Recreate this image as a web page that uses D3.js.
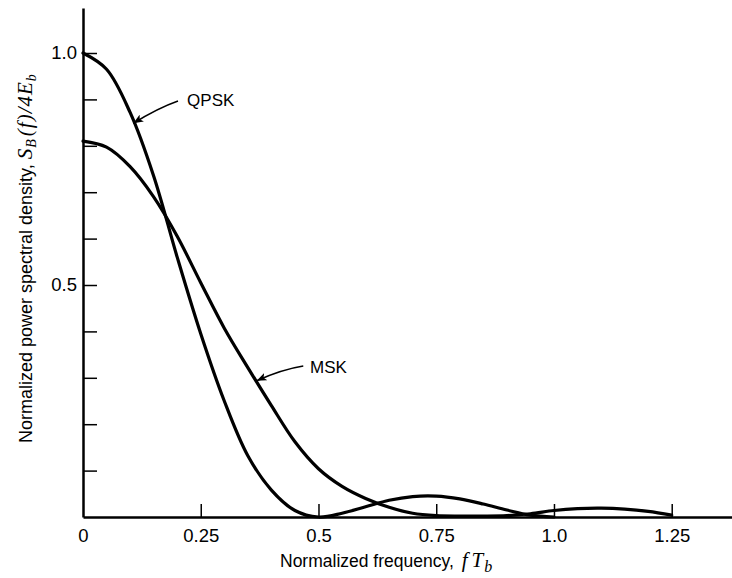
<!DOCTYPE html>
<html><head><meta charset="utf-8">
<script src="https://cdn.jsdelivr.net/npm/d3@7"></script>
<style>
body{margin:0;background:#fff}
svg{display:block}
</style>
</head><body>
<svg id="chart" width="732" height="578"></svg>
<script>
// ---- data ----
const freq    = [0,0.05,0.1,0.15,0.2,0.25,0.3,0.35,0.4,0.45,0.5,0.55,0.6,0.65,0.7,0.75,0.8,0.85,0.9,0.95,1.0,1.05,1.1,1.15,1.2,1.25];
const qpskPSD = [1.0,0.965,0.872,0.735,0.56,0.395,0.25,0.132,0.058,0.014,0.0,0.008,0.022,0.036,0.044,0.045,0.039,0.028,0.015,0.004,0.0,null,null,null,null,null];
const mskPSD  = [0.81,0.797,0.755,0.69,0.605,0.505,0.407,0.322,0.240,0.162,0.104,0.066,0.040,0.021,0.008,0.003,0.002,0.002,0.003,0.007,0.014,0.018,0.019,0.017,0.012,0.004];
const seriesNames = ["QPSK","MSK"];
const xTickValues = [0,0.25,0.5,0.75,1.0,1.25];
const xTickLabels = ["0","0.25","0.5","0.75","1.0","1.25"];
const yTickValues = [0.1,0.2,0.3,0.4,0.5,0.6,0.7,0.8,0.9,1.0];
const yTickLabels = ["","","","","0.5","","","","","1.0"];

// ---- layout ----
const x = d3.scaleLinear().domain([0,1.378]).range([83,732]);
const y = d3.scaleLinear().domain([0,1.097]).range([517,8]);
const sans = "'Liberation Sans', Arial, Helvetica, sans-serif";
const serif = "'Liberation Serif', 'Times New Roman', serif";

const svg = d3.select("#chart");

// axes
const xAxis = d3.axisBottom(x).tickValues(xTickValues)
  .tickFormat((d,i)=>xTickLabels[i]).tickSizeInner(-13).tickSizeOuter(0).tickPadding(12);
const yAxis = d3.axisLeft(y).tickValues(yTickValues)
  .tickFormat((d,i)=>yTickLabels[i]).tickSizeInner(-14).tickSizeOuter(0).tickPadding(6);

const gx = svg.append("g").attr("transform",`translate(0,${y(0)})`).call(xAxis);
const gy = svg.append("g").attr("transform",`translate(${x(0)},0)`).call(yAxis);
[gx,gy].forEach(g=>{
  g.select(".domain").attr("stroke","#000").attr("stroke-width",2.5);
  g.selectAll(".tick line").attr("stroke","#000").attr("stroke-width",1.5);
  g.selectAll(".tick text").attr("fill","#000").style("font-family",sans).style("font-size","18.5px");
});
gx.selectAll(".tick").filter(d=>d===0).select("line").remove();

// curves
const line = d3.line()
  .defined(d=>d[1]!==null)
  .x(d=>x(d[0])).y(d=>y(d[1]))
  .curve(d3.curveCatmullRom.alpha(0.5));
[qpskPSD, mskPSD].forEach((vals,k)=>{
  svg.append("path")
    .datum(freq.map((f,i)=>[f,vals[i]]))
    .attr("class","series-"+seriesNames[k])
    .attr("fill","none").attr("stroke","#000")
    .attr("stroke-width",3.2).attr("stroke-linejoin","round").attr("stroke-linecap","round")
    .attr("d",line);
});

// annotations (data coordinates)
const annotations = [
  {name:"QPSK", text:[0.221,0.886], from:[0.2017,0.8966], to:[0.1068,0.8485]},
  {name:"MSK",  text:[0.482,0.310], from:[0.4677,0.3254], to:[0.3688,0.2937]}
];
svg.append("defs").append("marker")
  .attr("id","ah").attr("viewBox","0 0 10 8").attr("refX",10).attr("refY",4)
  .attr("markerWidth",10).attr("markerHeight",8).attr("markerUnits","userSpaceOnUse")
  .attr("orient","auto")
  .append("path").attr("d","M0,0L10,4L0,8L2.5,4Z").attr("fill","#000");
annotations.forEach(a=>{
  const x0=x(a.from[0]), y0=y(a.from[1]), x1=x(a.to[0]), y1=y(a.to[1]);
  const cx=(x0+x1)/2+2, cy=(y0+y1)/2-4;
  svg.append("path").attr("d",`M${x0},${y0}Q${cx},${cy} ${x1},${y1}`)
    .attr("fill","none").attr("stroke","#000").attr("stroke-width",1.5)
    .attr("marker-end","url(#ah)");
  svg.append("text").attr("x",x(a.text[0])).attr("y",y(a.text[1]))
    .style("font-family",sans).style("font-size","17px").attr("fill","#000")
    .text(a.name);
});

// axis titles
const xt = svg.append("text").attr("x",280).attr("y",567)
  .style("font-family",sans).style("font-size","17.5px").attr("fill","#000");
xt.append("tspan").text("Normalized frequency, ");
xt.append("tspan").style("font-family",serif).style("font-style","italic").style("font-size","21px").attr("dx",3).text("f");
xt.append("tspan").style("font-family",serif).style("font-style","italic").style("font-size","21px").attr("dx",4).text("T");
xt.append("tspan").style("font-family",serif).style("font-style","italic").style("font-size","16px").attr("dx",1).attr("dy",5).text("b");

const yt = svg.append("text").attr("transform","translate(32,443) rotate(-90)")
  .style("font-family",sans).style("font-size","18px").attr("fill","#000");
yt.append("tspan").text("Normalized power spectral density, ");
const mathStyle = s => s.style("font-family",serif).style("font-style","italic").style("letter-spacing","1px");
mathStyle(yt.append("tspan")).style("font-size","21px").text("S");
mathStyle(yt.append("tspan")).style("font-size","14px").attr("dy",4).text("B");
mathStyle(yt.append("tspan")).style("font-size","21px").attr("dy",-4).attr("dx",2).text("(f)/4");
mathStyle(yt.append("tspan")).style("font-size","21px").text("E");
mathStyle(yt.append("tspan")).style("font-size","14px").attr("dy",4).text("b");
</script>
</body></html>
